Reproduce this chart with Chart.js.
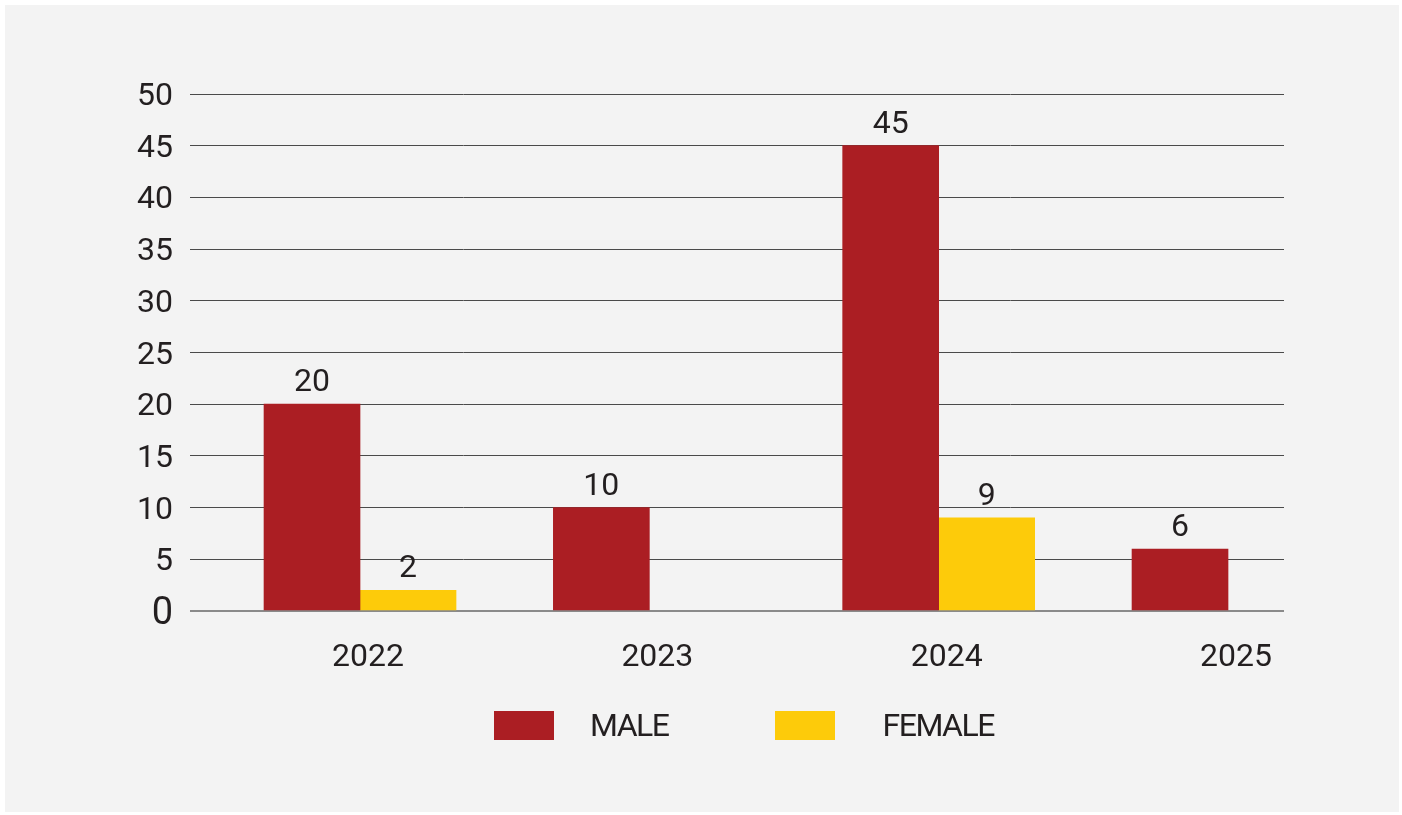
<!DOCTYPE html>
<html>
<head>
<meta charset="utf-8">
<script src="https://cdn.jsdelivr.net/npm/chart.js@4/dist/chart.umd.min.js"></script>
<style>
    body { margin: 0; background: #ffffff; }
    .panel { position: absolute; left: 5px; top: 5px; width: 1394px; height: 807px; background: #f3f3f3; }
    canvas { position: absolute; left: 0; top: 0; }
    .legend { position: absolute; top: 711px; left: 494px; display: flex; align-items: center;
              font-family: Roboto, sans-serif; font-size: 32px; color: #231f20; letter-spacing: -1.5px; }
    .legend .box { width: 60px; height: 29px; }
    .legend .txt { line-height: 29px; }
</style>
</head>
<body>
<div class="panel"></div>
<canvas id="chart" width="1402" height="815"></canvas>
<div class="legend" id="legend"></div>

<script>
const categories = ["2022", "2023", "2024", "2025"];
const maleValues = [20, 10, 45, 6];
const femaleValues = [2, null, 9, null];
const seriesNames = ["MALE", "FEMALE"];
const seriesColors = ["#ab1e23", "#fdcb0a"];
const yTicks = [0, 5, 10, 15, 20, 25, 30, 35, 40, 45, 50];

const FONT = "Roboto, sans-serif";
const TEXT = "#231f20";

// value labels above each bar
const barValues = {
    id: "barValues",
    afterDatasetsDraw(chart) {
        const ctx = chart.ctx;
        ctx.save();
        ctx.font = "32px " + FONT;
        ctx.fillStyle = TEXT;
        ctx.textAlign = "center";
        ctx.textBaseline = "bottom";
        chart.data.datasets.forEach((ds, i) => {
            chart.getDatasetMeta(i).data.forEach((bar, j) => {
                const v = ds.data[j].y;
                if (v === null) return;
                ctx.fillText(String(v), bar.x, bar.y - 5);
            });
        });
        ctx.restore();
    }
};

const toPoints = vals => vals.map((v, i) => ({ x: i, y: v }));

new Chart(document.getElementById("chart"), {
    type: "bar",
    data: {
        datasets: [
            { label: seriesNames[0], data: toPoints(maleValues), backgroundColor: seriesColors[0] },
            { label: seriesNames[1], data: toPoints(femaleValues), backgroundColor: seriesColors[1] }
        ]
    },
    options: {
        responsive: false,
        animation: false,
        barThickness: 96,
        layout: { padding: { top: 94, right: 118, bottom: 0, left: 0 } },
        plugins: {
            legend: { display: false },
            tooltip: { enabled: false }
        },
        scales: {
            x: {
                type: "linear",
                offset: false,
                min: -0.5876,
                max: 3.1935,
                grid: { display: false, offset: false },
                border: { display: false },
                afterBuildTicks: s => { s.ticks = categories.map((c, i) => ({ value: i })); },
                afterFit: s => { s.height = 204; },
                ticks: {
                    callback: v => categories[v],
                    labelOffset: 8,
                    padding: 20,
                    color: TEXT,
                    font: { family: FONT, size: 32 },
                    maxRotation: 0
                }
            },
            y: {
                min: 0,
                max: 50,
                afterBuildTicks: s => { s.ticks = yTicks.map(v => ({ value: v })); },
                afterFit: s => { s.width = 190; },
                border: { display: false },
                grid: {
                    drawTicks: false,
                    color: c => c.tick && c.tick.value === 0 ? "#8a8a8a" : "#4a4a4a",
                    lineWidth: c => c.tick && c.tick.value === 0 ? 2 : 1
                },
                ticks: {
                    padding: 17,
                    labelOffset: 3,
                    color: TEXT,
                    font: c => ({ family: FONT, size: c.tick && c.tick.value === 0 ? 38 : 32 })
                }
            }
        }
    },
    plugins: [barValues]
});

const legend = document.getElementById("legend");
const itemGaps = [0, 106];
const textGaps = [36, 48];
seriesNames.forEach((name, i) => {
    const item = document.createElement("div");
    item.style.display = "flex";
    item.style.alignItems = "center";
    item.style.marginLeft = itemGaps[i] + "px";
    item.innerHTML = '<div class="box" style="background:' + seriesColors[i] + '"></div>' +
        '<div class="txt" style="margin-left:' + textGaps[i] + 'px">' + name + '</div>';
    legend.appendChild(item);
});
</script>
</body>
</html>
